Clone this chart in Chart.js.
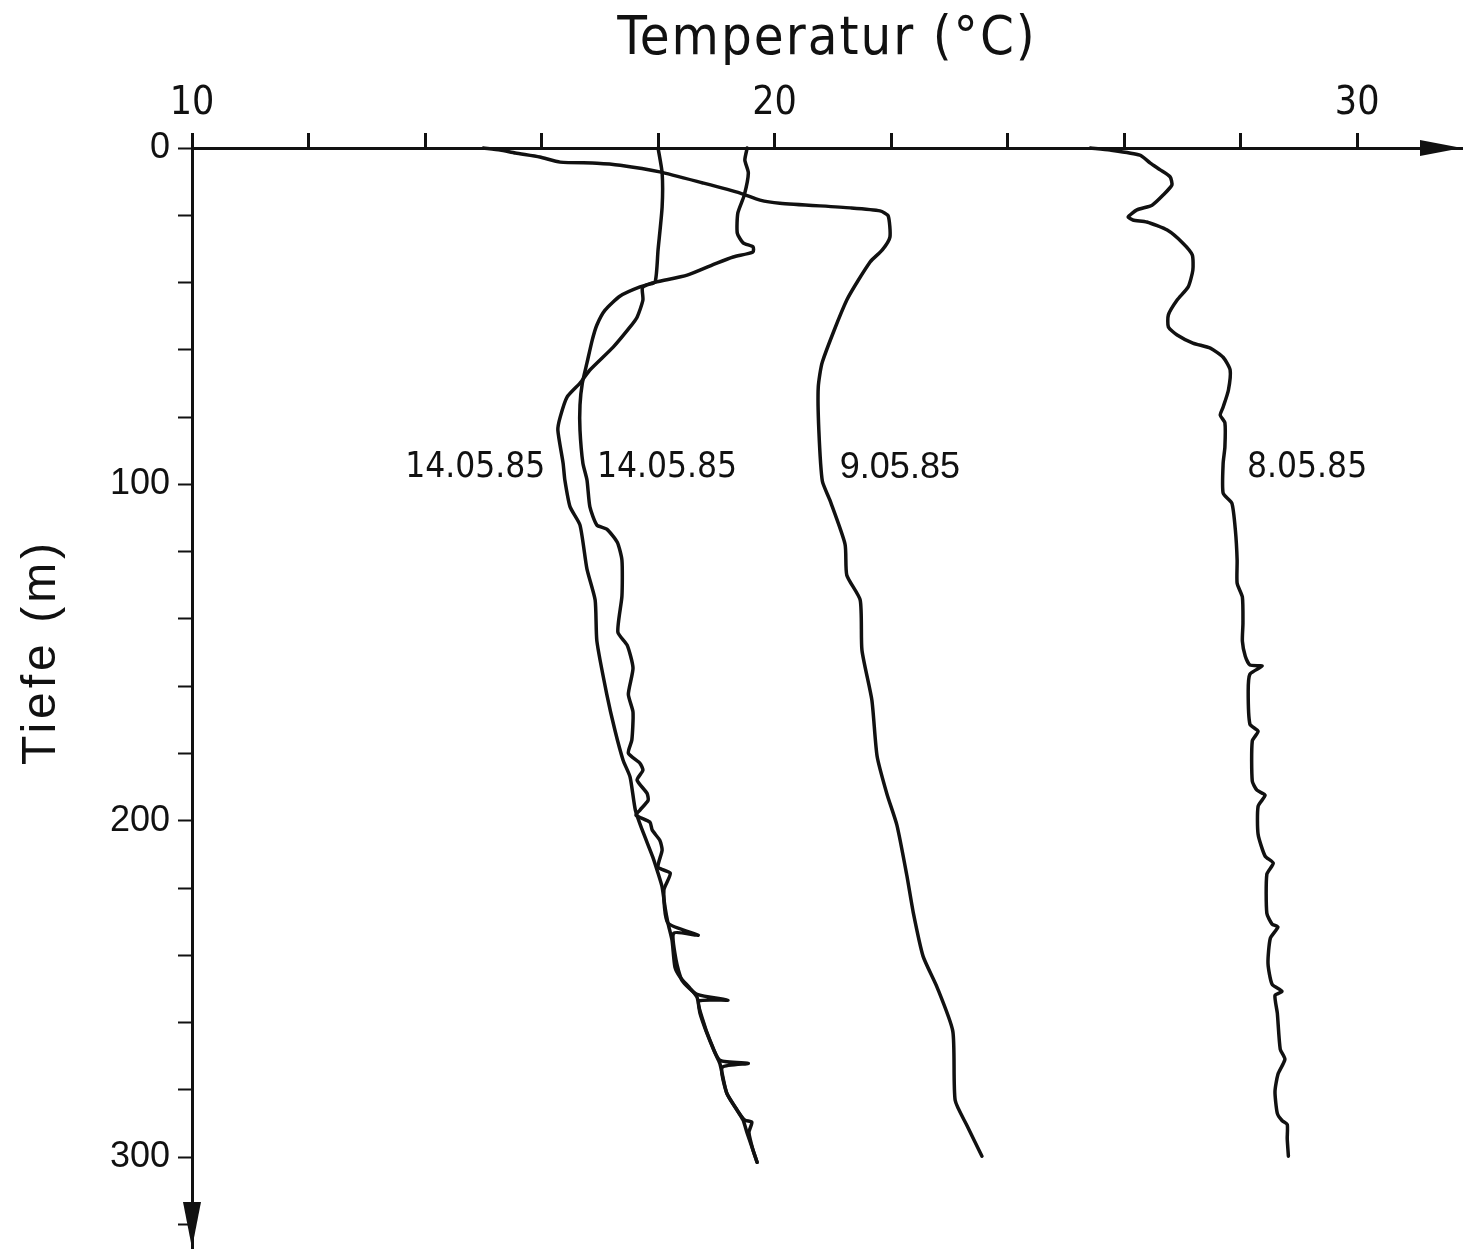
<!DOCTYPE html>
<html>
<head>
<meta charset="utf-8">
<title>Temperaturprofile</title>
<script src="https://cdn.jsdelivr.net/npm/chart.js@4.4.1/dist/chart.umd.min.js"></script>
<style>
  html, body { margin: 0; padding: 0; background: #fff; }
  #wrap { width: 1466px; height: 1250px; }
</style>
</head>
<body>
<div id="wrap"><canvas id="profilGraph" width="1466" height="1250"></canvas></div>
<script>
// Profil 14.05.85 (linke Kurve unten, beginnt bei 18 °C)
var depth14a = [0, 7.4, 17.5, 30.3, 39.8, 40.7, 41.6, 45.2, 50.3, 53.2, 59.2, 66.0, 69.9, 74.0, 80.0, 83.9, 93.7, 98.7, 106.7, 112.1,
  125.2, 134.4, 146.6, 162.4, 173.1, 182.0, 187.0, 196.8, 202.8, 210.8, 215.6, 219.7, 225.7, 230.4, 235.5, 243.5, 246.5, 249.8, 252.5, 257.2,
  263.2, 269.1, 272.1, 275.1, 281.0, 286.1, 289.0, 292.9, 297.9, 301.5];
var temp14a = [18.00, 18.07, 18.07, 18.00, 17.95, 17.81, 17.73, 17.74, 17.64, 17.52, 17.23, 16.83, 16.66, 16.44, 16.32, 16.28, 16.37, 16.40, 16.49, 16.66,
  16.78, 16.92, 16.95, 17.12, 17.26, 17.40, 17.52, 17.61, 17.73, 17.91, 18.00, 18.07, 18.12, 18.17, 18.24, 18.29, 18.38, 18.55, 18.67, 18.72,
  18.84, 18.98, 19.06, 19.10, 19.18, 19.36, 19.46, 19.53, 19.63, 19.70];

// Profil 14.05.85 (rechte Kurve unten, beginnt bei 19.5 °C)
var depth14b = [0, 3.6, 7.4, 14.0, 19.3, 25.3, 28.2, 29.4, 30.9, 32.4, 34.2, 37.8, 39.8, 41.3, 44.0, 48.2, 52.6, 57.1, 63.9, 69.9,
  76.4, 83.9, 93.7, 98.7, 106.7, 112.1, 113.3, 117.2, 122.5, 133.2, 143.9, 147.8, 154.6, 162.4, 167.7, 176.0, 179.9, 182.9, 185.0, 187.9,
  191.8, 193.9, 196.8, 198.3, 200.4, 202.8, 205.8, 208.7, 213.8, 215.6, 220.6, 230.4, 234.0, 233.4, 241.5, 247.4, 251.6, 253.3, 253.6, 259.3,
  265.2, 271.2, 272.1, 273.3, 281.0, 286.1, 289.0, 289.6, 292.6, 297.9, 301.5];
var temp14b = [19.53, 19.49, 19.55, 19.48, 19.37, 19.36, 19.46, 19.63, 19.63, 19.29, 19.01, 18.50, 17.98, 17.69, 17.35, 17.09, 16.95, 16.87, 16.78, 16.70,
  16.66, 16.66, 16.71, 16.78, 16.83, 16.95, 17.12, 17.30, 17.38, 17.38, 17.31, 17.47, 17.57, 17.49, 17.57, 17.55, 17.49, 17.69, 17.74, 17.64,
  17.81, 17.83, 17.69, 17.62, 17.86, 17.90, 18.03, 18.07, 18.00, 18.21, 18.10, 18.17, 18.69, 18.27, 18.31, 18.41, 18.67, 19.20, 18.70, 18.77,
  18.89, 19.06, 19.55, 19.10, 19.18, 19.36, 19.49, 19.61, 19.56, 19.63, 19.70];

// Profil 9.05.85
var depth9 = [0, 0.6, 1.5, 2.7, 4.2, 4.5, 5.1, 7.1, 10.4, 13.4, 15.5, 16.4, 17.8, 18.7, 20.2, 26.5, 30.3, 33.9, 45.2, 63.6,
  71.1, 83.9, 99.0, 104.7, 117.8, 127.0, 134.4, 149.3, 164.1, 180.8, 192.1, 201.3, 216.2, 227.2, 240.3, 249.5, 262.6, 283.1, 290.5, 299.7];
var temp9 = [15.00, 15.29, 15.55, 15.97, 16.32, 16.95, 17.35, 18.03, 18.77, 19.41, 19.75, 20.09, 21.30, 21.81, 21.95, 21.98, 21.85, 21.64, 21.24, 20.82,
  20.75, 20.76, 20.82, 20.95, 21.21, 21.24, 21.47, 21.50, 21.67, 21.76, 21.93, 22.10, 22.27, 22.38, 22.55, 22.79, 23.06, 23.10, 23.30, 23.56];

// Profil 8.05.85
var depth8 = [0, 0.6, 2.1, 4.5, 6.5, 8.6, 11.0, 14.0, 17.0, 18.4, 20.5, 21.4, 22.0, 24.4, 28.3, 31.8, 36.3, 41.3, 45.2, 49.6,
  53.2, 55.6, 58.0, 59.5, 62.2, 66.0, 72.0, 77.0, 79.4, 81.7, 88.9, 93.7, 102.6, 105.6, 113.6, 122.5, 129.4, 133.5, 141.3, 146.6,
  151.1, 153.7, 154.0, 156.4, 161.5, 171.3, 173.4, 176.3, 188.2, 190.9, 192.4, 195.7, 204.0, 210.5, 212.6, 215.9, 227.5, 230.7, 231.6, 234.9,
  242.4, 248.6, 250.7, 251.9, 257.2, 267.9, 270.9, 275.4, 280.5, 287.0, 289.1, 290.3, 294.5, 299.7];
var temp8 = [25.42, 25.76, 26.27, 26.45, 26.62, 26.79, 26.82, 26.67, 26.48, 26.22, 26.07, 26.15, 26.39, 26.74, 27.01, 27.17, 27.18, 27.10, 26.91, 26.76,
  26.76, 26.91, 27.18, 27.48, 27.70, 27.82, 27.79, 27.70, 27.65, 27.73, 27.73, 27.70, 27.70, 27.85, 27.91, 27.94, 27.94, 28.03, 28.04, 28.03,
  28.08, 28.16, 28.37, 28.16, 28.13, 28.16, 28.30, 28.20, 28.20, 28.28, 28.42, 28.30, 28.30, 28.42, 28.56, 28.45, 28.45, 28.54, 28.64, 28.51,
  28.47, 28.54, 28.71, 28.59, 28.63, 28.68, 28.76, 28.64, 28.59, 28.63, 28.71, 28.80, 28.80, 28.82];

// Beschriftung der Kurven
var labelTexts = ["14.05.85", "14.05.85", "9.05.85", "8.05.85"];
var labelTemp = [13.66, 16.95, 21.12, 28.11];
var labelDepth = [95.2, 95.2, 95.2, 95.2];

var tempTicksLabeled = [10, 20, 30];
var depthTicksLabeled = [0, 100, 200, 300];

var ink = "#111";
var narrow = "'Liberation Sans Narrow', 'DejaVu Sans Condensed', sans-serif";
var plain = "'Liberation Sans', Arial, sans-serif";

function toPoints(temps, depths) {
  var pts = [];
  for (var i = 0; i < temps.length; i++) {
    pts.push({ x: temps[i], y: depths[i] });
  }
  return pts;
}

function lineSet(label, temps, depths) {
  return {
    label: label,
    data: toPoints(temps, depths),
    showLine: true,
    borderColor: ink,
    borderWidth: 3.5,
    pointRadius: 0,
    tension: 0.2,
    borderJoinStyle: "round",
    borderCapStyle: "round",
    clip: 6
  };
}

// keine zusätzliche Randpolsterung durch die Achsen
function noPad(scale) {
  scale.paddingTop = 0;
  scale.paddingBottom = 0;
  scale.paddingLeft = 0;
  scale.paddingRight = 0;
}

// Pfeile, Achsentitel und Kurvenbeschriftung
var annotate = {
  id: "annotate",
  afterDraw: function (chart) {
    var ctx = chart.ctx;
    var area = chart.chartArea;
    var xs = chart.scales.x;
    var ys = chart.scales.y;
    ctx.save();
    ctx.fillStyle = ink;

    ctx.beginPath();
    ctx.moveTo(area.right, area.top);
    ctx.lineTo(area.right - 42, area.top - 8);
    ctx.lineTo(area.right - 42, area.top + 8);
    ctx.closePath();
    ctx.fill();

    ctx.beginPath();
    ctx.moveTo(area.left, area.bottom);
    ctx.lineTo(area.left - 9, area.bottom - 46);
    ctx.lineTo(area.left + 9, area.bottom - 46);
    ctx.closePath();
    ctx.fill();

    ctx.textBaseline = "middle";
    ctx.textAlign = "left";
    for (var i = 0; i < labelTexts.length; i++) {
      ctx.font = (i === 2 ? "36px " + plain : "35px " + narrow);
      ctx.fillText(labelTexts[i], xs.getPixelForValue(labelTemp[i]), ys.getPixelForValue(labelDepth[i]));
    }

    ctx.textAlign = "center";
    ctx.font = "54px " + narrow;
    ctx.letterSpacing = "2px";
    ctx.fillText("Temperatur (°C)", (area.left + area.right) / 2, 40);

    ctx.translate(42, 652);
    ctx.rotate(-Math.PI / 2);
    ctx.font = "48px " + plain;
    ctx.letterSpacing = "4px";
    ctx.fillText("Tiefe (m)", 0, 0);
    ctx.restore();
  }
};

document.addEventListener("DOMContentLoaded", function () {
  var ctx = document.getElementById("profilGraph").getContext("2d");
  new Chart(ctx, {
    type: "scatter",
    data: {
      datasets: [
        lineSet("14.05.85", temp14a, depth14a),
        lineSet("14.05.85", temp14b, depth14b),
        lineSet("9.05.85", temp9, depth9),
        lineSet("8.05.85", temp8, depth8)
      ]
    },
    options: {
      responsive: false,
      animation: false,
      devicePixelRatio: 1,
      layout: { padding: { top: 0, left: 0, right: 4, bottom: 2 } },
      plugins: {
        legend: { display: false },
        tooltip: { enabled: false }
      },
      scales: {
        x: {
          type: "linear",
          position: "top",
          min: 10,
          max: 31.8,
          afterFit: function (scale) { scale.height = 148; noPad(scale); },
          border: { display: true, color: ink, width: 3 },
          grid: { drawOnChartArea: false, drawTicks: true, tickLength: 15, tickWidth: 3, tickColor: ink },
          ticks: {
            stepSize: 2,
            includeBounds: false,
            autoSkip: false,
            maxRotation: 0,
            padding: 6,
            color: ink,
            font: { family: narrow, size: 39 },
            callback: function (v) { return tempTicksLabeled.indexOf(v) >= 0 ? String(v) : ""; }
          }
        },
        y: {
          type: "linear",
          position: "left",
          reverse: true,
          min: 0,
          max: 327,
          afterFit: function (scale) { scale.width = 192; noPad(scale); },
          border: { display: true, color: ink, width: 3 },
          grid: { drawOnChartArea: false, drawTicks: true, tickLength: 14, tickWidth: 2, tickColor: ink },
          ticks: {
            stepSize: 20,
            includeBounds: false,
            autoSkip: false,
            padding: 8,
            color: ink,
            font: { family: plain, size: 36 },
            callback: function (v) { return depthTicksLabeled.indexOf(v) >= 0 ? String(v) : ""; }
          }
        }
      }
    },
    plugins: [annotate]
  });
});
</script>
</body>
</html>
